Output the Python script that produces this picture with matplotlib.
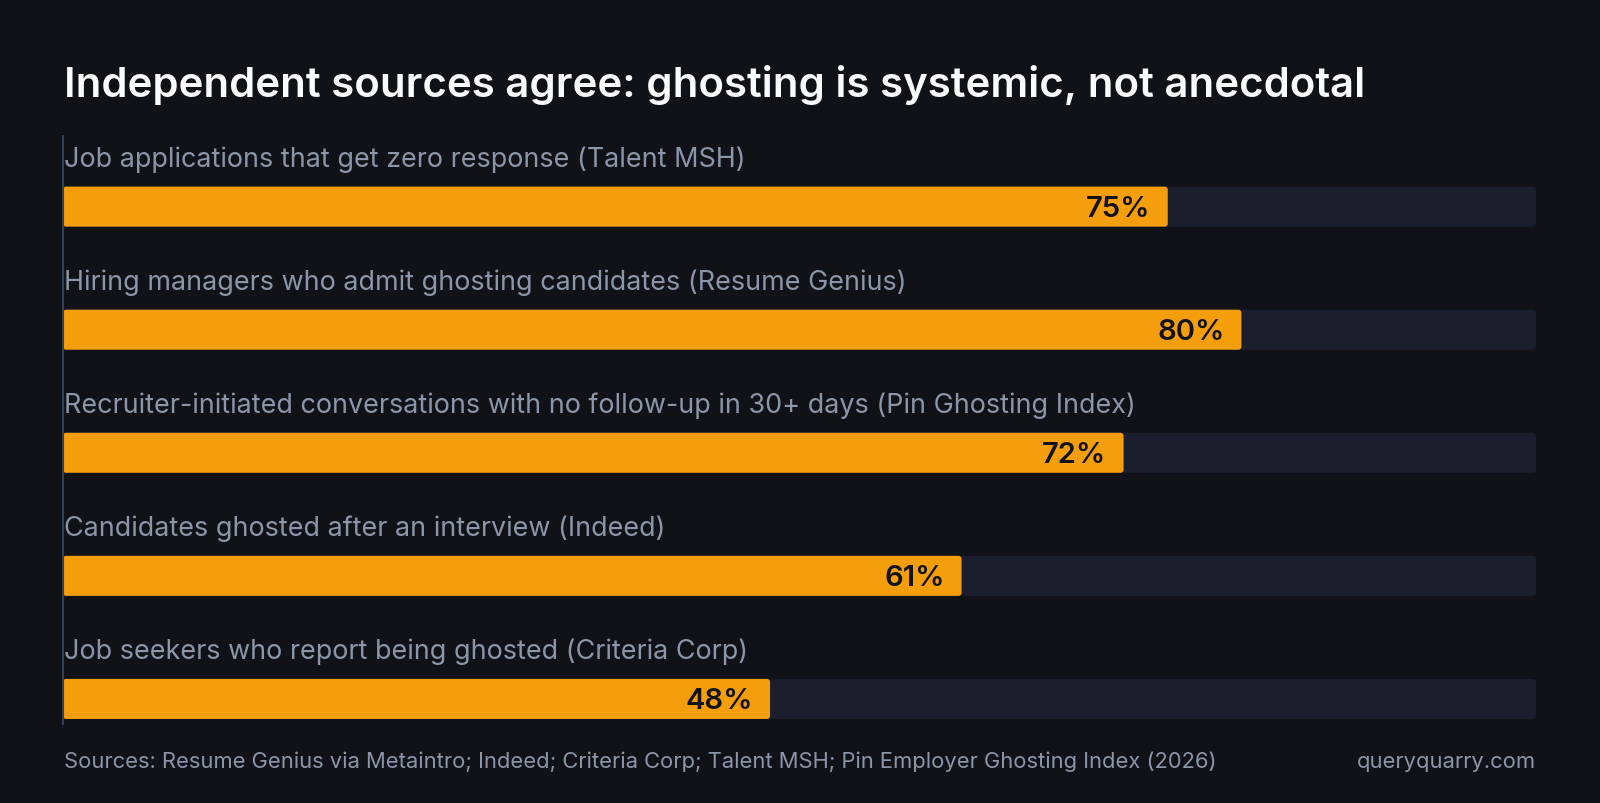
import matplotlib
matplotlib.use("Agg")
import matplotlib.pyplot as plt
from matplotlib.patches import FancyBboxPatch

labels = [
    "Job applications that get zero response (Talent MSH)",
    "Hiring managers who admit ghosting candidates (Resume Genius)",
    "Recruiter-initiated conversations with no follow-up in 30+ days (Pin Ghosting Index)",
    "Candidates ghosted after an interview (Indeed)",
    "Job seekers who report being ghosted (Criteria Corp)",
]
values = [75, 80, 72, 61, 48]
max_value = 100
title = "Independent sources agree: ghosting is systemic, not anecdotal"
footer_left = "Sources: Resume Genius via Metaintro; Indeed; Criteria Corp; Talent MSH; Pin Employer Ghosting Index (2026)"
footer_right = "queryquarry.com"

BG = "#111217"
ORANGE = "#F59E0B"
TRACK = "#1B1F2D"
LABEL = "#8C96A9"
TITLE = "#F8FAFC"
DARK = "#111217"
AXIS = "#334155"

plt.rcParams["font.family"] = ["Inter", "DejaVu Sans"]

W, H = 1600, 803
fig = plt.figure(figsize=(W / 100, (H + 0.5) / 100), dpi=100)
fig.patch.set_facecolor(BG)

x0, x1 = 63, 1536
ytop, ybot = 136, 724
ax = fig.add_axes([x0 / W, 1 - ybot / H, (x1 - x0) / W, (ybot - ytop) / H])
ax.set_facecolor("none")
unit = 123.0
top_off = 71.0 / unit
ax.set_xlim(0, max_value)
ax.set_ylim(-top_off + (ybot - ytop) / unit, -top_off)
for s in ["top", "right", "bottom"]:
    ax.spines[s].set_visible(False)
ax.spines["left"].set_color(AXIS)
ax.spines["left"].set_linewidth(1.5)
ax.set_xticks([])
ax.set_yticks([])

bh = 40 / unit
px_x = max_value / (x1 - x0)
px_y = 1 / unit
r = 3 * px_x
asp = px_y / px_x
for i, (lab, v) in enumerate(zip(labels, values)):
    ax.add_patch(FancyBboxPatch((0, i - bh / 2), max_value, bh,
                                boxstyle=f"round,pad=0,rounding_size={r}",
                                mutation_aspect=asp, fc=TRACK, ec="none", zorder=1))
    ax.add_patch(FancyBboxPatch((0, i - bh / 2), v, bh,
                                boxstyle=f"round,pad=0,rounding_size={r}",
                                mutation_aspect=asp, fc=ORANGE, ec="none", zorder=2))
    ax.text(0.1, i - 40 / unit, lab, color=LABEL, fontsize=19.4,
            va="baseline", ha="left", zorder=3)
    ax.text(v - 17 * px_x, i + 10 / unit, f"{v}%", color=DARK, fontsize=21,
            fontweight="semibold", va="baseline", ha="right", zorder=3)

fig.text(64 / W, 1 - 97 / H, title, color=TITLE, fontsize=30.2,
         fontweight="semibold", va="baseline", ha="left")
fig.text(64 / W, 1 - 768 / H, footer_left, color=LABEL, fontsize=15.8,
         va="baseline", ha="left")
fig.text(1536 / W, 1 - 768 / H, footer_right, color=LABEL, fontsize=15.8,
         va="baseline", ha="right")

fig.savefig("out.png", dpi=100, facecolor=BG)
